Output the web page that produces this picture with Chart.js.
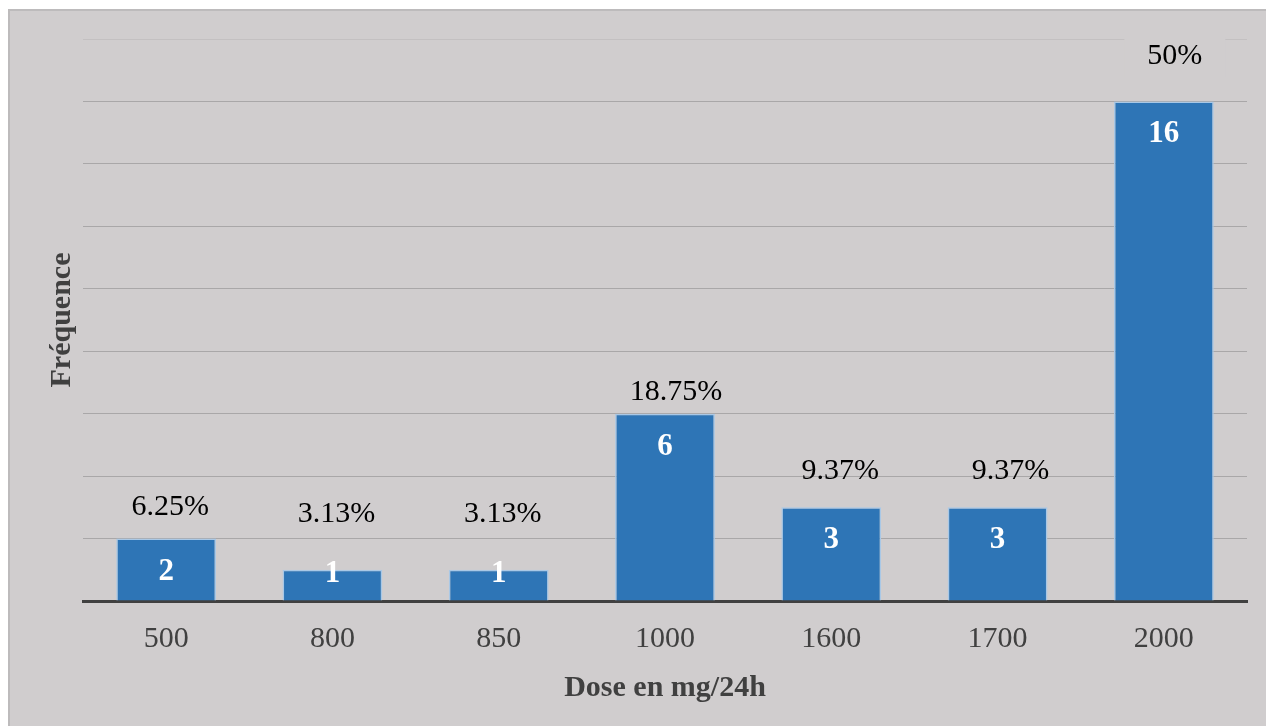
<!DOCTYPE html>
<html>
<head>
<meta charset="utf-8">
<script src="https://cdn.jsdelivr.net/npm/chart.js@4.4.1/dist/chart.umd.min.js"></script>
<style>
  html, body { margin: 0; padding: 0; background: #ffffff; }
  #frame {
    position: absolute; left: 8px; top: 9px; width: 1266px; height: 726px;
    background: #d0cdce; border-left: 2px solid #bdbbbc; border-top: 2px solid #bdbbbc;
  }
  #wrap { position: absolute; left: 0; top: 0; width: 1266px; height: 726px; }
</style>
</head>
<body>
<div id="frame"></div>
<div id="wrap"><canvas id="myChart" width="1266" height="726"></canvas></div>
<script>
var doses = ['500', '800', '850', '1000', '1600', '1700', '2000'];
var frequence = [2, 1, 1, 6, 3, 3, 16];
var percents = ['6.25%', '3.13%', '3.13%', '18.75%', '9.37%', '9.37%', '50%'];

// hand-placed label nudges (pixels above bar top, sideways shift)
var pctLift = [31, 56, 56, 22, 36, 36, 45];
var pctShift = [4, 4, 4, 11, 9, 13, 11];

var serif = "'Liberation Serif', 'Times New Roman', serif";
var bg = '#d0cdce';

var barLabels = {
    id: 'barLabels',
    afterDatasetsDraw: function(chart) {
        var ctx = chart.ctx;
        var meta = chart.getDatasetMeta(0);
        var base = chart.scales.y.getPixelForValue(0);
        var top = chart.chartArea.top;
        ctx.save();
        ctx.textAlign = 'center';
        ctx.textBaseline = 'middle';
        meta.data.forEach(function(bar, i) {
            // count inside the bar
            ctx.font = 'bold 31px ' + serif;
            ctx.fillStyle = '#ffffff';
            var yIn = Math.min(bar.y + 33, base - 27);
            ctx.fillText(String(frequence[i]), bar.x, yIn);

            // percentage above the bar
            ctx.font = '30px ' + serif;
            var yOut = bar.y - pctLift[i];
            var xOut = bar.x + pctShift[i];
            var w = ctx.measureText(percents[i]).width;
            if (yOut - 20 < top) {
                // label box sits over the top gridline and hides it
                ctx.fillStyle = bg;
                ctx.fillRect(xOut - w / 2 - 23, top - 2, w + 46, 40);
            }
            ctx.fillStyle = '#000000';
            ctx.fillText(percents[i], xOut, yOut);
        });
        ctx.restore();
    }
};

var ctx = document.getElementById('myChart').getContext('2d');
var myChart = new Chart(ctx, {
    type: 'bar',
    data: {
        labels: doses,
        datasets: [{
            label: 'Fréquence',
            data: frequence,
            backgroundColor: '#2e75b6',
            borderColor: '#a9c8e6',
            borderWidth: 1.5,
            borderSkipped: 'bottom',
            categoryPercentage: 1.0,
            barPercentage: 0.6
        }]
    },
    options: {
        responsive: false,
        animation: false,
        layout: { padding: { left: 41, right: 19, top: 39, bottom: 20 } },
        plugins: {
            legend: { display: false },
            tooltip: { enabled: false }
        },
        scales: {
            x: {
                grid: { display: false, drawTicks: false },
                border: { color: '#404040', width: 3 },
                ticks: {
                    color: '#404040',
                    font: { family: serif, size: 30 },
                    padding: 20
                },
                title: {
                    display: true,
                    text: 'Dose en mg/24h',
                    color: '#404040',
                    font: { family: serif, size: 30, weight: 'bold' },
                    padding: { top: -7, bottom: 0 }
                }
            },
            y: {
                min: 0,
                max: 18,
                ticks: { display: false, stepSize: 2 },
                grid: {
                    drawTicks: false,
                    lineWidth: 1,
                    color: function(c) { return c.tick && c.tick.value === 18 ? '#c3c0c1' : '#a9a7a8'; }
                },
                border: { display: false },
                title: {
                    display: true,
                    text: 'Fréquence',
                    color: '#404040',
                    font: { family: serif, size: 30, weight: 'bold' },
                    padding: { top: 3, bottom: 3 }
                }
            }
        }
    },
    plugins: [barLabels]
});
</script>
</body>
</html>
